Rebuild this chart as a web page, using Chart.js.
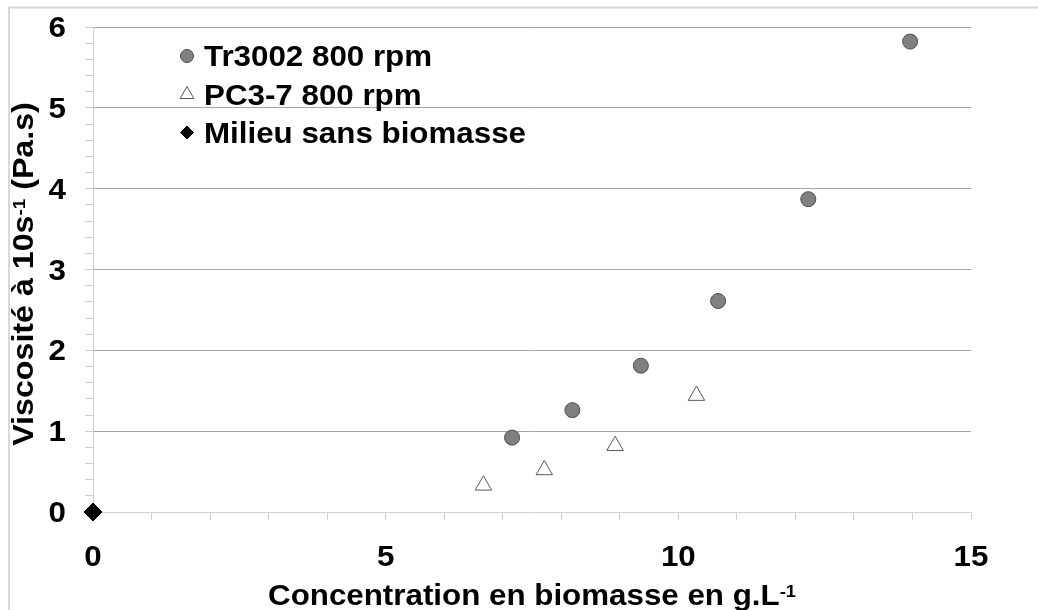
<!DOCTYPE html>
<html>
<head>
<meta charset="utf-8">
<script src="https://cdn.jsdelivr.net/npm/chart.js@4/dist/chart.umd.min.js"></script>
<style>
  html, body { margin: 0; padding: 0; background: #fff; }
  #wrap { width: 1038px; height: 610px; position: relative; }
</style>
</head>
<body>
<div id="wrap"><canvas id="chart_visc"></canvas></div>
<script>
// Viscosité vs concentration en biomasse

// series
var tr3002X = [7.16, 8.19, 9.36, 10.68, 12.22, 13.96];
var tr3002Y = [0.92, 1.26, 1.81, 2.61, 3.87, 5.82];
var pc37X = [6.67, 7.71, 8.92, 10.31];
var pc37Y = [0.33, 0.52, 0.82, 1.44];
var milieuX = [0];
var milieuY = [0];

var seriesNames = ['Tr3002 800 rpm', 'PC3-7 800 rpm', 'Milieu sans biomasse'];
var xTickValues = [0, 5, 10, 15];
var xTickLabels = ['0', '5', '10', '15'];
var yTickValues = [0, 1, 2, 3, 4, 5, 6];
var yTickLabels = ['0', '1', '2', '3', '4', '5', '6'];
var xTitle = [{ t: 'Concentration en biomasse en g.L' }, { t: '-1', sup: true }];
var yTitle = [{ t: 'Viscosité à 10s' }, { t: '-1', sup: true }, { t: ' (Pa.s)' }];

var FONT = 'bold 29px "Liberation Sans", Arial, sans-serif';
var SUP_FONT = 'bold 17px "Liberation Sans", Arial, sans-serif';
var SX = 1.08;      // the text in the original is a bit wider than Arial
var SUP_RISE = 8.5;

function toPoints(xs, ys) {
    return xs.map(function (x, i) { return { x: x, y: ys[i] }; });
}

// draws a line of text, with optional superscript parts
function drawText(ctx, parts, x, y, align, sx) {
    sx = sx || SX;
    ctx.save();
    var w = 0;
    parts.forEach(function (p) {
        ctx.font = p.sup ? SUP_FONT : FONT;
        p.w = ctx.measureText(p.t).width;
        w += p.w;
    });
    ctx.translate(x, y);
    ctx.scale(sx, 1);
    var cx = align === 'center' ? -w / 2 : (align === 'right' ? -w : 0);
    ctx.fillStyle = '#000';
    ctx.textBaseline = 'alphabetic';
    ctx.textAlign = 'left';
    parts.forEach(function (p) {
        ctx.font = p.sup ? SUP_FONT : FONT;
        ctx.fillText(p.t, cx, p.sup ? -SUP_RISE : 0);
        cx += p.w;
    });
    ctx.restore();
}

function drawMarker(ctx, style, x, y, r, fill, stroke) {
    ctx.save();
    ctx.beginPath();
    if (style === 'circle') {
        ctx.arc(x, y, r, 0, Math.PI * 2);
    } else if (style === 'triangle') {
        for (var i = 0; i < 3; i++) {
            var a = i * Math.PI * 2 / 3;
            var px = x + Math.sin(a) * r, py = y - Math.cos(a) * r;
            if (i === 0) ctx.moveTo(px, py); else ctx.lineTo(px, py);
        }
        ctx.closePath();
    } else {
        ctx.moveTo(x, y - r); ctx.lineTo(x + r, y); ctx.lineTo(x, y + r); ctx.lineTo(x - r, y);
        ctx.closePath();
    }
    ctx.fillStyle = fill;
    ctx.fill();
    ctx.lineWidth = 1;
    ctx.strokeStyle = stroke;
    ctx.stroke();
    ctx.restore();
}

var textPlugin = {
    id: 'textPlugin',
    beforeDraw: function (chart) {
        var ctx = chart.ctx;
        ctx.save();
        ctx.fillStyle = '#fff';
        ctx.fillRect(0, 0, chart.width, chart.height);
        // outer frame
        ctx.strokeStyle = '#d9d9d9';
        ctx.lineWidth = 2;
        ctx.beginPath();
        ctx.moveTo(9, chart.height + 2);
        ctx.lineTo(9, 7.5);
        ctx.lineTo(chart.width + 2, 7.5);
        ctx.stroke();
        ctx.restore();
    },
    afterDraw: function (chart) {
        var ctx = chart.ctx;
        var xs = chart.scales.x, ys = chart.scales.y;
        // tick labels
        xTickValues.forEach(function (v, i) {
            drawText(ctx, [{ t: xTickLabels[i] }], xs.getPixelForValue(v), 566, 'center');
        });
        yTickValues.forEach(function (v, i) {
            drawText(ctx, [{ t: yTickLabels[i] }], 66, ys.getPixelForValue(v) + 10, 'right');
        });
        // axis titles
        var ca = chart.chartArea;
        drawText(ctx, xTitle, (ca.left + ca.right) / 2, 605, 'center');
        ctx.save();
        ctx.translate(33, 274);
        ctx.rotate(-Math.PI / 2);
        drawText(ctx, yTitle, 0, 0, 'center', 1.11);
        ctx.restore();
        // legend inside the plot
        var rows = [66, 104.5, 142.5];
        var legR = [6.5, 8, 6.5];
        chart.data.datasets.forEach(function (ds, i) {
            drawMarker(ctx, ds.pointStyle, 187, rows[i] - 10, legR[i], ds.backgroundColor, ds.borderColor);
            drawText(ctx, [{ t: ds.label }], 204, rows[i], 'left');
        });
    }
};

var ctxVisc = document.getElementById('chart_visc').getContext('2d');
var chartVisc = new Chart(ctxVisc, {
    type: 'scatter',
    data: {
        datasets: [{
            label: seriesNames[0],
            data: toPoints(tr3002X, tr3002Y),
            pointStyle: 'circle',
            pointRadius: 7.5,
            pointHoverRadius: 7.5,
            backgroundColor: '#808080',
            borderColor: '#4d4d4d',
            borderWidth: 1,
            clip: false
        }, {
            label: seriesNames[1],
            data: toPoints(pc37X, pc37Y),
            pointStyle: 'triangle',
            pointRadius: 9.5,
            pointHoverRadius: 9.5,
            backgroundColor: '#ffffff',
            borderColor: '#595959',
            borderWidth: 1,
            clip: false
        }, {
            label: seriesNames[2],
            data: toPoints(milieuX, milieuY),
            pointStyle: 'rectRot',
            pointRadius: 9,
            pointHoverRadius: 9,
            backgroundColor: '#000000',
            borderColor: '#000000',
            borderWidth: 1,
            clip: false
        }]
    },
    options: {
        responsive: true,
        maintainAspectRatio: false,
        animation: false,
        events: [],
        layout: { padding: { top: 27, right: 67, bottom: 0, left: 0 } },
        plugins: {
            legend: { display: false },
            tooltip: { enabled: false }
        },
        scales: {
            x: {
                type: 'linear',
                min: 0,
                max: 15,
                afterFit: function (s) { s.height = 98; },
                border: { color: '#d0d0d0', width: 1 },
                grid: {
                    drawOnChartArea: false,
                    drawTicks: true,
                    tickLength: 8,
                    tickColor: '#d0d0d0'
                },
                ticks: { stepSize: 1, display: false, autoSkip: false }
            },
            y: {
                type: 'linear',
                min: 0,
                max: 6,
                afterFit: function (s) { s.width = 93; },
                border: { color: '#d0d0d0', width: 1 },
                grid: {
                    drawTicks: true,
                    tickLength: 8,
                    tickColor: '#d0d0d0',
                    color: function (c) {
                        var v = c.tick ? c.tick.value : 0;
                        if (v > 0.01 && Math.abs(v - Math.round(v)) < 1e-6) return '#a6a6a6';
                        return 'rgba(0,0,0,0)';
                    }
                },
                ticks: { stepSize: 0.2, display: false, autoSkip: false }
            }
        }
    },
    plugins: [textPlugin]
});
</script>
</body>
</html>
